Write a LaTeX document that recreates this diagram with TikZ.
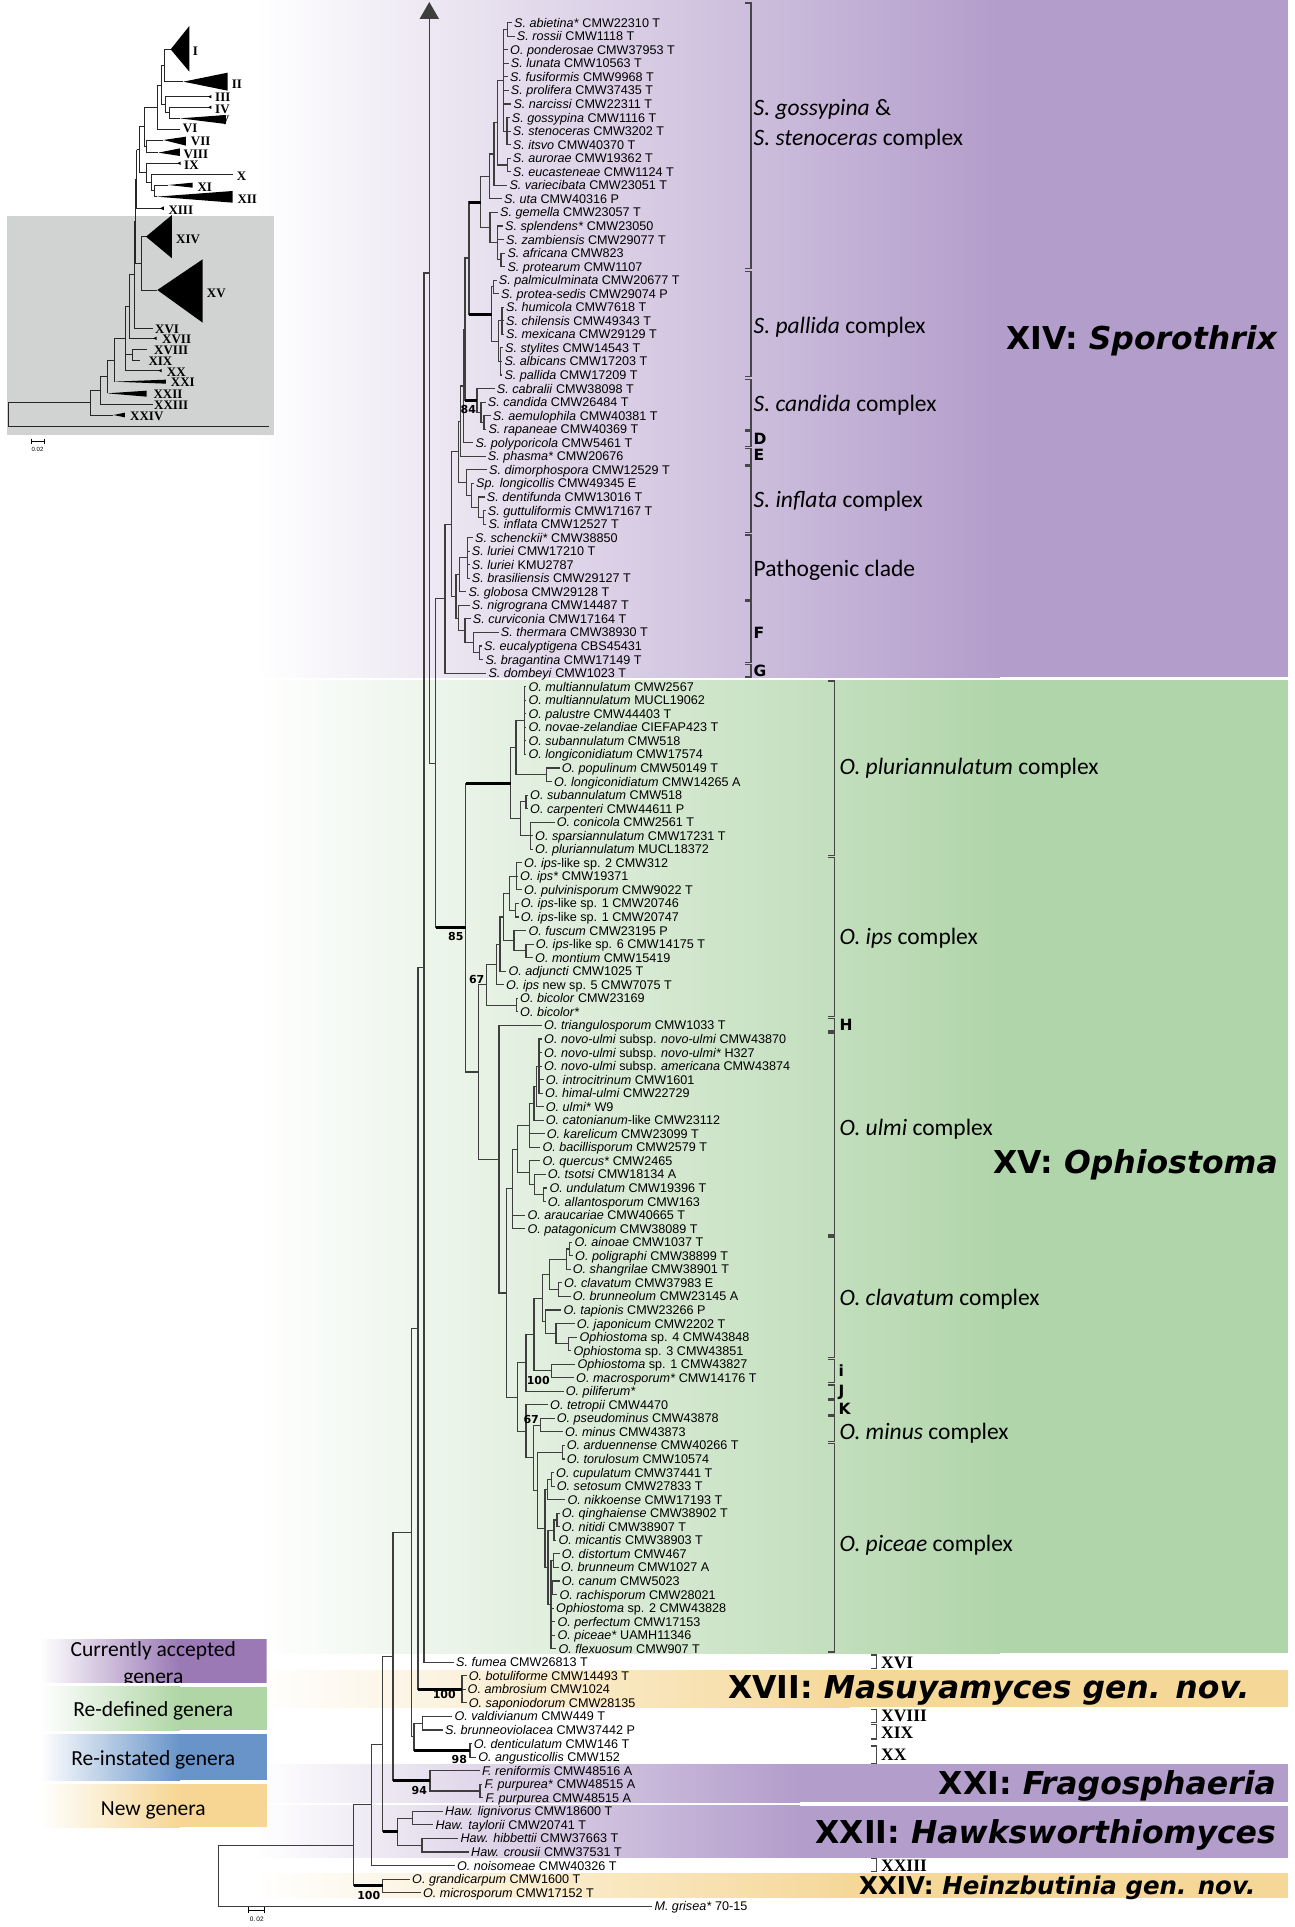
\documentclass[tikz,border=0pt]{standalone}
\usepackage{fontspec}
\setmainfont{Liberation Sans}
\newfontfamily\calibfont{Carlito}
\newfontfamily\dvsfont{DejaVu Sans}
\newfontfamily\serifbfont{Liberation Serif}
\usetikzlibrary{calc}
\definecolor{purB}{RGB}{179,157,203}
\definecolor{grnB}{RGB}{177,213,170}
\definecolor{yelB}{RGB}{245,216,152}
\definecolor{legP}{RGB}{154,121,181}
\definecolor{legG}{RGB}{176,214,166}
\definecolor{legB}{RGB}{104,148,201}
\definecolor{legY}{RGB}{246,214,146}
\definecolor{insG}{RGB}{209,210,210}
\definecolor{brc}{RGB}{62,62,62}
\definecolor{bkc}{RGB}{70,70,70}
\tikzset{
 br/.style={line width=1.1pt, draw=brc, line cap=rect},
 thk/.style={line width=3pt, draw=black},
 bk/.style={line width=1.2pt, draw=bkc},
 tax/.style={anchor=base west, inner sep=0pt, font=\fontsize{12.6}{13}\selectfont},
 cplx/.style={anchor=base west, inner sep=0pt, font=\calibfont\fontsize{23.5}{24}\selectfont},
 lett/.style={anchor=base west, inner sep=0pt, font=\dvsfont\bfseries\fontsize{15.5}{16}\selectfont},
 big/.style={inner sep=0pt, font=\dvsfont\bfseries\fontsize{31.5}{32}\selectfont},
 supp/.style={anchor=base, inner sep=0pt, font=\dvsfont\bfseries\fontsize{11}{11}\selectfont},
 rom/.style={anchor=base west, inner sep=0pt, font=\serifbfont\bfseries\fontsize{17.5}{18}\selectfont},
 leg/.style={anchor=base, inner sep=0pt, font=\calibfont\fontsize{21.5}{22}\selectfont},
 inl/.style={anchor=west, inner sep=0pt, font=\serifbfont\bfseries\fontsize{13}{13}\selectfont},
}
\newcommand\lf[4]{\coordinate (#1) at ({#3-2.5},{22.7+13.55*#2});
  \node[tax] at (#3,{27.2+13.55*#2}) {#4};}
\newcommand\cl[5]{\path let \p1=(#3), \p2=(#4) in coordinate (#1) at (#2pt,{(\y1+\y2)/2});
  \draw[br] (#1 |- #3) -- (#1 |- #4);
  \foreach \c in {#5} {\draw[br] (#1 |- \c) -- (\c);}}
\newcommand\brk[3]{\draw[bk] ({#1-6},#2) -- (#1,#2) -- (#1,#3) -- ({#1-6},#3);}
\begin{document}
\begin{tikzpicture}[x=1pt,y=-1pt]
\useasboundingbox (0,0) rectangle (1294,1927);
\fill[white] (0,0) rectangle (1294,1927);
% ---------- bands
\shade[left color=white, right color=purB] (254,0) rectangle (1000,677);
\fill[purB] (1000,0) rectangle (1288,677);
\shade[left color=white, right color=grnB] (254,680) rectangle (1000,1653);
\fill[grnB] (1000,680) rectangle (1288,1653);
\shade[left color=white, right color=yelB] (254,1670) rectangle (850,1707);
\fill[yelB] (850,1670) rectangle (1288,1707);
\shade[left color=white, right color=purB] (254,1764) rectangle (800,1802.3);
\fill[purB] (800,1764) rectangle (1288,1802.3);
\shade[left color=white, right color=purB] (254,1805.7) rectangle (800,1857.5);
\fill[purB] (800,1805.7) rectangle (1288,1857.5);
\shade[left color=white, right color=yelB] (254,1873.3) rectangle (850,1897.5);
\fill[yelB] (850,1873.3) rectangle (1288,1897.5);
% ---------- legend
\begin{scope}
\clip (40,1639.3) rectangle (266.7,1682.7);
\shade[left color=white, right color=legP] (40,1639.3) rectangle (180,1682.7);
\fill[legP] (180,1639.3) rectangle (266.7,1682.7);
\node[leg] at (153.3,1656) {Currently accepted};
\node[leg] at (153.3,1683) {genera};
\end{scope}
\shade[left color=white, right color=legG] (40,1686.7) rectangle (180,1730);
\fill[legG] (180,1686.7) rectangle (266.7,1730);
\node[leg] at (153.3,1716.7) {Re-defined genera};
\shade[left color=white, right color=legB] (40,1734) rectangle (180,1780);
\fill[legB] (180,1734) rectangle (266.7,1780);
\node[leg] at (153.3,1765.7) {Re-instated genera};
\shade[left color=white, right color=legY] (40,1784) rectangle (180,1827);
\fill[legY] (180,1784) rectangle (266.7,1827);
\node[leg] at (153.3,1815) {New genera};
% ---------- inset
\fill[insG] (7.3,216) rectangle (274,435);
\begin{scope}[x=0.33333pt,y=-0.33333pt]
\begin{scope}[line width=0.9pt, draw=black!85, fill=black]
\draw (512,148) -- (492,148) -- (492,245) -- (550,245);
\fill (512,148) -- (568,78) -- (568,215) -- cycle;
\fill (550,245) -- (683,218) -- (683,272) -- cycle;
\draw (485,196) -- (492,196);
\draw (632,290) -- (495,290) -- (495,338) -- (508,338);
\fill (624,290) -- (634,285) -- (634,295) -- cycle;
\draw (632,322) -- (508,322) -- (508,355) -- (540,355);
\fill (624,322) -- (634,317) -- (634,327) -- cycle;
\fill (540,355) -- (678,345) -- (678,372) -- cycle;
\draw (485,196) -- (485,314) -- (495,314);
\draw (472,255) -- (485,255);
\draw (472,255) -- (472,388) -- (540,388);
\draw (432,321) -- (472,321);
\draw (432,321) -- (432,439) -- (440,439);
\draw (490,420) -- (440,420) -- (440,458) -- (475,458);
\fill (490,420) -- (558,410) -- (558,437) -- cycle;
\fill (475,458) -- (540,445) -- (540,468) -- cycle;
\draw (418,380) -- (432,380);
\draw (418,380) -- (418,518) -- (438,518);
\draw (540,490) -- (438,490) -- (438,547) -- (455,547);
\fill (532,490) -- (542,485) -- (542,495) -- cycle;
\draw (700,522) -- (455,522) -- (455,572) -- (462,572);
\draw (505,555) -- (462,555) -- (462,590) -- (470,590);
\fill (505,555) -- (578,548) -- (578,563) -- cycle;
\fill (470,590) -- (698,573) -- (698,608) -- cycle;
\draw (410,449) -- (418,449);
\draw (410,449) -- (410,625) -- (488,625);
\fill (480,625) -- (492,619) -- (492,631) -- cycle;
\draw (407,537) -- (410,537);
\draw (407,537) -- (407,790) -- (425,790);
\draw (438,710) -- (425,710) -- (425,870) -- (472,870);
\fill (438,710) -- (516,645) -- (516,775) -- cycle;
\fill (472,870) -- (608,778) -- (608,968) -- cycle;
\draw (402,663) -- (407,663);
\draw (402,663) -- (402,985) -- (460,985);
\draw (388,824) -- (402,824);
\draw (388,824) -- (388,1015) -- (468,1015);
\fill (460,1015) -- (470,1010) -- (470,1020) -- cycle;
\draw (440,1048) -- (398,1048) -- (398,1080) -- (420,1080);
\draw (376,920) -- (388,920);
\draw (376,920) -- (376,1112) -- (483,1112);
\fill (475,1112) -- (485,1107) -- (485,1117) -- cycle;
\draw (376,1064) -- (398,1064);
\draw (342,1016) -- (376,1016);
\draw (342,1016) -- (342,1145);
\fill (342,1145) -- (498,1139) -- (498,1151) -- cycle;
\draw (322,1080) -- (342,1080);
\draw (322,1080) -- (322,1180);
\fill (322,1180) -- (440,1172) -- (440,1190) -- cycle;
\draw (300,1130) -- (322,1130);
\draw (300,1130) -- (300,1212) -- (460,1212);
\draw (272,1171) -- (300,1171);
\draw (272,1171) -- (272,1245) -- (340,1245);
\fill (340,1245) -- (375,1238) -- (375,1252) -- cycle;
\draw (25,1208) -- (272,1208);
\draw (25,1208) -- (25,1278) -- (808,1278);
\end{scope}
\node[inl] at (578,155) {I};
\node[inl] at (695,252) {II};
\node[inl] at (645,291) {III};
\node[inl] at (645,327) {IV};
\node[inl] at (660,362) {V};
\node[inl] at (548,385) {VI};
\node[inl] at (572,424) {VII};
\node[inl] at (550,462) {VIII};
\node[inl] at (552,495) {IX};
\node[inl] at (710,530) {X};
\node[inl] at (592,562) {XI};
\node[inl] at (712,598) {XII};
\node[inl] at (505,632) {XIII};
\node[inl] at (528,718) {XIV};
\node[inl] at (620,880) {XV};
\node[inl] at (465,988) {XVI};
\node[inl] at (486,1018) {XVII};
\node[inl] at (462,1051) {XVIII};
\node[inl] at (445,1084) {XIX};
\node[inl] at (500,1116) {XX};
\node[inl] at (512,1148) {XXI};
\node[inl] at (460,1182) {XXII};
\node[inl] at (462,1216) {XXIII};
\node[inl] at (390,1250) {XXIV};
\end{scope}
\draw[line width=0.7pt] (31,441) -- (44,441) (31,438.5) -- (31,443.5) (44,438.5) -- (44,443.5);
\node[font=\fontsize{6}{6}\selectfont, inner sep=0pt] at (37.5,449) {0.02};
% ---------- leaves
\lf{t0}{0}{514}{\textit{S. abietina*} CMW22310 T}
\lf{t1}{1}{516.7}{\textit{S. rossii} CMW1118 T}
\lf{t2}{2}{510}{\textit{O. ponderosae} CMW37953 T}
\lf{t3}{3}{510.7}{\textit{S. lunata} CMW10563 T}
\lf{t4}{4}{510}{\textit{S. fusiformis} CMW9968 T}
\lf{t5}{5}{510.7}{\textit{S. prolifera} CMW37435 T}
\lf{t6}{6}{513.3}{\textit{S. narcissi} CMW22311 T}
\lf{t7}{7}{511.7}{\textit{S. gossypina} CMW1116 T}
\lf{t8}{8}{512.7}{\textit{S. stenoceras} CMW3202 T}
\lf{t9}{9}{512.7}{\textit{S. itsvo} CMW40370 T}
\lf{t10}{10}{512.7}{\textit{S. aurorae} CMW19362 T}
\lf{t11}{11}{512.7}{\textit{S. eucasteneae} CMW1124 T}
\lf{t12}{12}{509.3}{\textit{S. variecibata} CMW23051 T}
\lf{t13}{13}{504}{\textit{S. uta} CMW40316 P}
\lf{t14}{14}{500}{\textit{S. gemella} CMW23057 T}
\lf{t15}{15}{505}{\textit{S. splendens*} CMW23050}
\lf{t16}{16}{506}{\textit{S. zambiensis} CMW29077 T}
\lf{t17}{17}{507.3}{\textit{S. africana} CMW823}
\lf{t18}{18}{507.3}{\textit{S. protearum} CMW1107}
\lf{t19}{19}{498.7}{\textit{S. palmiculminata} CMW20677 T}
\lf{t20}{20}{501}{\textit{S. protea-sedis} CMW29074 P}
\lf{t21}{21}{506}{\textit{S. humicola} CMW7618 T}
\lf{t22}{22}{506}{\textit{S. chilensis} CMW49343 T}
\lf{t23}{23}{506}{\textit{S. mexicana} CMW29129 T}
\lf{t24}{24}{505}{\textit{S. stylites} CMW14543 T}
\lf{t25}{25}{504.3}{\textit{S. albicans} CMW17203 T}
\lf{t26}{26}{504.3}{\textit{S. pallida} CMW17209 T}
\lf{t27}{27}{496.7}{\textit{S. cabralii} CMW38098 T}
\lf{t28}{28}{487.7}{\textit{S. candida} CMW26484 T}
\lf{t29}{29}{492.7}{\textit{S. aemulophila} CMW40381 T}
\lf{t30}{30}{488.3}{\textit{S. rapaneae} CMW40369 T}
\lf{t31}{31}{475.3}{\textit{S. polyporicola} CMW5461 T}
\lf{t32}{32}{487.7}{\textit{S. phasma*} CMW20676}
\lf{t33}{33}{489}{\textit{S. dimorphospora} CMW12529 T}
\lf{t34}{34}{476}{\textit{Sp. longicollis} CMW49345 E}
\lf{t35}{35}{486.7}{\textit{S. dentifunda} CMW13016 T}
\lf{t36}{36}{487.7}{\textit{S. guttuliformis} CMW17167 T}
\lf{t37}{37}{488.3}{\textit{S. inflata} CMW12527 T}
\lf{t38}{38}{475}{\textit{S. schenckii*} CMW38850}
\lf{t39}{39}{471.7}{\textit{S. luriei} CMW17210 T}
\lf{t40}{40}{471.7}{\textit{S. luriei} KMU2787}
\lf{t41}{41}{471.7}{\textit{S. brasiliensis} CMW29127 T}
\lf{t42}{42}{468.3}{\textit{S. globosa} CMW29128 T}
\lf{t43}{43}{471.7}{\textit{S. nigrograna} CMW14487 T}
\lf{t44}{44}{472.7}{\textit{S. curviconia} CMW17164 T}
\lf{t45}{45}{500.7}{\textit{S. thermara} CMW38930 T}
\lf{t46}{46}{484}{\textit{S. eucalyptigena} CBS45431}
\lf{t47}{47}{485.3}{\textit{S. bragantina} CMW17149 T}
\lf{t48}{48}{488.3}{\textit{S. dombeyi} CMW1023 T}
\lf{t49}{49}{528.3}{\textit{O. multiannulatum} CMW2567}
\lf{t50}{50}{528.3}{\textit{O. multiannulatum} MUCL19062}
\lf{t51}{51}{528.3}{\textit{O. palustre} CMW44403 T}
\lf{t52}{52}{528.3}{\textit{O. novae-zelandiae} CIEFAP423 T}
\lf{t53}{53}{528.3}{\textit{O. subannulatum} CMW518}
\lf{t54}{54}{528.3}{\textit{O. longiconidiatum} CMW17574}
\lf{t55}{55}{561.7}{\textit{O. populinum} CMW50149 T}
\lf{t56}{56}{554}{\textit{O. longiconidiatum} CMW14265 A}
\lf{t57}{57}{530}{\textit{O. subannulatum} CMW518}
\lf{t58}{58}{530}{\textit{O. carpenteri} CMW44611 P}
\lf{t59}{59}{556.7}{\textit{O. conicola} CMW2561 T}
\lf{t60}{60}{535}{\textit{O. sparsiannulatum} CMW17231 T}
\lf{t61}{61}{535}{\textit{O. pluriannulatum} MUCL18372}
\lf{t62}{62}{524}{\textit{O. ips}-like sp. 2 CMW312}
\lf{t63}{63}{520}{\textit{O. ips*} CMW19371}
\lf{t64}{64}{524}{\textit{O. pulvinisporum} CMW9022 T}
\lf{t65}{65}{520.7}{\textit{O. ips}-like sp. 1 CMW20746}
\lf{t66}{66}{520.7}{\textit{O. ips}-like sp. 1 CMW20747}
\lf{t67}{67}{528.3}{\textit{O. fuscum} CMW23195 P}
\lf{t68}{68}{535.7}{\textit{O. ips}-like sp. 6 CMW14175 T}
\lf{t69}{69}{535}{\textit{O. montium} CMW15419}
\lf{t70}{70}{508.3}{\textit{O. adjuncti} CMW1025 T}
\lf{t71}{71}{506}{\textit{O. ips} new sp. 5 CMW7075 T}
\lf{t72}{72}{520}{\textit{O. bicolor} CMW23169}
\lf{t73}{73}{520}{\textit{O. bicolor*}}
\lf{t74}{74}{544}{\textit{O. triangulosporum} CMW1033 T}
\lf{t75}{75}{544}{\textit{O. novo-ulmi} subsp. \textit{novo-ulmi} CMW43870}
\lf{t76}{76}{544}{\textit{O. novo-ulmi} subsp. \textit{novo-ulmi*} H327}
\lf{t77}{77}{544}{\textit{O. novo-ulmi} subsp. \textit{americana} CMW43874}
\lf{t78}{78}{545.7}{\textit{O. introcitrinum} CMW1601}
\lf{t79}{79}{545}{\textit{O. himal-ulmi} CMW22729}
\lf{t80}{80}{545.7}{\textit{O. ulmi*} W9}
\lf{t81}{81}{545.7}{\textit{O. catonianum}-like CMW23112}
\lf{t82}{82}{546.7}{\textit{O. karelicum} CMW23099 T}
\lf{t83}{83}{542.3}{\textit{O. bacillisporum} CMW2579 T}
\lf{t84}{84}{542.3}{\textit{O. quercus*} CMW2465}
\lf{t85}{85}{547.7}{\textit{O. tsotsi} CMW18134 A}
\lf{t86}{86}{549.3}{\textit{O. undulatum} CMW19396 T}
\lf{t87}{87}{547.7}{\textit{O. allantosporum} CMW163}
\lf{t88}{88}{527.3}{\textit{O. araucariae} CMW40665 T}
\lf{t89}{89}{527.3}{\textit{O. patagonicum} CMW38089 T}
\lf{t90}{90}{574.3}{\textit{O. ainoae} CMW1037 T}
\lf{t91}{91}{575}{\textit{O. poligraphi} CMW38899 T}
\lf{t92}{92}{572.7}{\textit{O. shangrilae} CMW38901 T}
\lf{t93}{93}{564}{\textit{O. clavatum} CMW37983 E}
\lf{t94}{94}{572.7}{\textit{O. brunneolum} CMW23145 A}
\lf{t95}{95}{563.3}{\textit{O. tapionis} CMW23266 P}
\lf{t96}{96}{576.7}{\textit{O. japonicum} CMW2202 T}
\lf{t97}{97}{579.3}{\textit{Ophiostoma} sp. 4 CMW43848}
\lf{t98}{98}{573.3}{\textit{Ophiostoma} sp. 3 CMW43851}
\lf{t99}{99}{577.3}{\textit{Ophiostoma} sp. 1 CMW43827}
\lf{t100}{100}{576}{\textit{O. macrosporum*} CMW14176 T}
\lf{t101}{101}{565.7}{\textit{O. piliferum*}}
\lf{t102}{102}{550}{\textit{O. tetropii} CMW4470}
\lf{t103}{103}{556.7}{\textit{O. pseudominus} CMW43878}
\lf{t104}{104}{565}{\textit{O. minus} CMW43873}
\lf{t105}{105}{566.7}{\textit{O. arduennense} CMW40266 T}
\lf{t106}{106}{566.7}{\textit{O. torulosum} CMW10574}
\lf{t107}{107}{556}{\textit{O. cupulatum} CMW37441 T}
\lf{t108}{108}{556.7}{\textit{O. setosum} CMW27833 T}
\lf{t109}{109}{567.3}{\textit{O. nikkoense} CMW17193 T}
\lf{t110}{110}{561.7}{\textit{O. qinghaiense} CMW38902 T}
\lf{t111}{111}{561.7}{\textit{O. nitidi} CMW38907 T}
\lf{t112}{112}{558.3}{\textit{O. micantis} CMW38903 T}
\lf{t113}{113}{561.7}{\textit{O. distortum} CMW467}
\lf{t114}{114}{560.7}{\textit{O. brunneum} CMW1027 A}
\lf{t115}{115}{561.7}{\textit{O. canum} CMW5023}
\lf{t116}{116}{559.3}{\textit{O. rachisporum} CMW28021}
\lf{t117}{117}{556}{\textit{Ophiostoma} sp. 2 CMW43828}
\lf{t118}{118}{557.3}{\textit{O. perfectum} CMW17153}
\lf{t119}{119}{557.3}{\textit{O. piceae*} UAMH11346}
\lf{t120}{120}{558.3}{\textit{O. flexuosum} CMW907 T}
\lf{t121}{121}{456}{\textit{S. fumea} CMW26813 T}
\lf{t122}{122}{468.6}{\textit{O. botuliforme} CMW14493 T}
\lf{t123}{123}{467.5}{\textit{O. ambrosium} CMW1024}
\lf{t124}{124}{468.6}{\textit{O. saponiodorum} CMW28135}
\lf{t125}{125}{454.3}{\textit{O. valdivianum} CMW449 T}
\lf{t126}{126}{445}{\textit{S. brunneoviolacea} CMW37442 P}
\lf{t127}{127}{473.6}{\textit{O. denticulatum} CMW146 T}
\lf{t128}{128}{478.2}{\textit{O. angusticollis} CMW152}
\lf{t129}{129}{481.8}{\textit{F. reniformis} CMW48516 A}
\lf{t130}{130}{484.3}{\textit{F. purpurea*} CMW48515 A}
\lf{t131}{131}{485.4}{\textit{F. purpurea} CMW48515 A}
\lf{t132}{132}{445}{\textit{Haw. lignivorus} CMW18600 T}
\lf{t133}{133}{435.4}{\textit{Haw. taylorii} CMW20741 T}
\lf{t134}{134}{460.4}{\textit{Haw. hibbettii} CMW37663 T}
\lf{t135}{135}{471}{\textit{Haw. crousii} CMW37531 T}
\lf{t136}{136}{456.8}{\textit{O. noisomeae} CMW40326 T}
\lf{t137}{137}{412}{\textit{O. grandicarpum} CMW1600 T}
\lf{t138}{138}{422.9}{\textit{O. microsporum} CMW17152 T}
\lf{t139}{139}{654.3}{\textit{M. grisea*} 70-15}
% ---------- Sporothrix clades
\cl{G1}{507.3}{t0}{t1}{t0,t1}
\cl{G3}{507}{t7}{t9}{t7,t8,t9}
\cl{G2}{503.3}{G1}{G3}{G1,t2,t3,t4,t5,t6,G3}
\cl{G4}{507.3}{t10}{t11}{t10,t11}
\cl{G5}{497.3}{G2}{G4}{G2,G4}
\cl{G6}{494}{G5}{t12}{G5,t12}
\cl{G7}{489.3}{G6}{t13}{G6,t13}
\cl{G10}{501}{t17}{t18}{t17,t18}
\cl{G9}{497.3}{t15}{G10}{t15,t16,G10}
\cl{G8}{490}{t14}{G9}{t14,G9}
\cl{G11}{480.7}{G7}{G8}{G7,G8}
\cl{P1}{493.3}{t19}{t20}{t19,t20}
\cl{P2a}{502}{t21}{t23}{t21,t22,t23}
\cl{P2b}{500.5}{t24}{t26}{t24,t25,t26}
\cl{P2}{498.5}{P2a}{P2b}{P2a,P2b}
\cl{P3}{491.7}{P1}{P2}{P1,P2}
\cl{GP}{469}{G11}{P3}{G11,P3}
\cl{C2}{484}{t29}{t30}{t29,t30}
\cl{C1}{481}{t28}{C2}{t28,C2}
\cl{C3}{477}{t27}{C1}{t27,C1}
\cl{SP6}{465}{GP}{C3}{GP,C3}
\cl{SP5}{463.3}{SP6}{t31}{SP6,t31}
\cl{SP4}{460.7}{SP5}{t32}{SP5,t32}
\cl{INF3b}{483.3}{t36}{t37}{t36,t37}
\cl{INF3}{478.3}{t35}{INF3b}{t35,INF3b}
\cl{INF2}{471.7}{t34}{INF3}{t34,INF3}
\cl{INF}{466.7}{t33}{INF2}{t33,INF2}
\cl{SP2}{458.3}{SP4}{INF}{SP4,INF}
\cl{PC1}{467.5}{t38}{t41}{t38,t39,t40,t41}
\cl{PC}{459.3}{PC1}{t42}{PC1,t42}
\cl{F3}{479.3}{t46}{t47}{t46,t47}
\cl{F2}{473.3}{t45}{F3}{t45,F3}
\cl{FC}{465}{t44}{F2}{t44,F2}
\cl{NF}{458.3}{t43}{FC}{t43,FC}
\cl{SP3}{456}{PC}{NF}{PC,NF}
\cl{SP1}{451.7}{SP2}{SP3}{SP2,SP3}
\cl{SP0}{445}{SP1}{t48}{SP1,t48}
% ---------- Ophiostoma clades
\cl{O1}{524.3}{t49}{t54}{t49,t50,t51,t52,t53,t54}
\cl{O2}{546.7}{t55}{t56}{t55,t56}
\cl{O3}{516}{O1}{O2}{O1,O2}
\cl{O4}{526}{t57}{t58}{t57,t58}
\cl{O5}{530.7}{t59}{t61}{t59,t60,t61}
\cl{O6}{520.7}{O4}{O5}{O4,O5}
\cl{O7}{510.7}{O3}{O6}{O3,O6}
\cl{I1}{516.7}{t62}{t64}{t62,t63,t64}
\cl{I2}{515.7}{t65}{t66}{t65,t66}
\cl{I3}{509.3}{I1}{I2}{I1,I2}
\cl{I4}{526}{t68}{t69}{t68,t69}
\cl{I5}{514}{t67}{I4}{t67,I4}
\cl{I6}{503.3}{I3}{I5}{I3,I5}
\cl{I7}{500}{I6}{t70}{I6,t70}
\cl{I8}{496.7}{I7}{t71}{I7,t71}
\cl{I9}{516.7}{t72}{t73}{t72,t73}
\cl{I10}{486.7}{I8}{I9}{I8,I9}
\cl{UL7}{539}{t75}{t79}{t75,t76,t77,t78,t79}
\cl{UL6}{536.7}{UL7}{t80}{UL7,t80}
\cl{UL4}{534}{UL6}{t81}{UL6,t81}
\cl{UL2}{529.3}{UL4}{t83}{UL4,t82,t83}
\cl{UL9}{543.3}{t86}{t87}{t86,t87}
\cl{UL8}{534.3}{t85}{UL9}{t85,UL9}
\cl{UL3}{529.3}{t84}{UL8}{t84,UL8}
\cl{UL1}{517.3}{UL2}{UL3}{UL2,UL3}
\cl{ULT}{512.3}{UL1}{t89}{UL1,t88,t89}
\cl{CL1a}{569.3}{t90}{t91}{t90,t91}
\cl{CL1}{566.7}{CL1a}{t92}{CL1a,t92}
\cl{CL2}{558.3}{t93}{t94}{t93,t94}
\cl{CL3}{549.3}{CL1}{CL2}{CL1,CL2}
\cl{CL6}{568.3}{t97}{t98}{t97,t98}
\cl{CL5}{556}{t96}{CL6}{t96,CL6}
\cl{CL4}{545.7}{t95}{CL5}{t95,CL5}
\cl{CL7}{542.3}{CL3}{CL4}{CL3,CL4}
\cl{CL9}{551.7}{t99}{t100}{t99,t100}
\cl{CL8}{534}{CL7}{CL9}{CL7,CL9}
\cl{CL10}{526}{CL8}{t101}{CL8,t101}
\cl{MP3}{540.7}{t103}{t104}{t103,t104}
\cl{MP5}{562.7}{t105}{t106}{t105,t106}
\cl{MP7a}{551.5}{t107}{t108}{t107,t108}
\cl{MP7}{547.7}{MP7a}{t109}{MP7a,t109}
\cl{MP9a}{557}{t110}{t111}{t110,t111}
\cl{MP9}{554}{MP9a}{t112}{MP9a,t112}
\cl{MP10}{553.3}{t113}{t114}{t113,t114}
\cl{MP11}{552.7}{t115}{t116}{t115,t116}
\cl{MP12}{551}{MP10}{t120}{MP10,MP11,t117,t118,t119,t120}
\cl{MP8}{548}{MP9}{MP12}{MP9,MP12}
\cl{MP6}{545}{MP7}{MP8}{MP7,MP8}
\cl{MP4}{537.3}{MP5}{MP6}{MP5,MP6}
\cl{MP2}{533.3}{MP3}{MP4}{MP3,MP4}
\cl{MP}{526}{t102}{MP2}{t102,MP2}
\cl{CL11}{517.3}{CL10}{MP}{CL10,MP}
\cl{U2}{506.7}{ULT}{CL11}{ULT,CL11}
\cl{U1}{499}{t74}{U2}{t74,U2}
\cl{U0}{478.3}{I10}{U1}{I10,U1}
\cl{OPH}{465.7}{O7}{U0}{O7,U0}
\cl{XV0}{435.7}{SP0}{OPH}{SP0,OPH}
% ---------- lower clades and backbone
\cl{MAS}{462}{t122}{t124}{t122,t123,t124}
\cl{VAL}{422.9}{t125}{t126}{t125,t126}
\cl{DEN}{470}{t127}{t128}{t127,t128}
\cl{N4}{414}{VAL}{DEN}{VAL,DEN}
\cl{FR2}{480}{t130}{t131}{t130,t131}
\cl{FRA}{430}{t129}{FR2}{t129,FR2}
\cl{HA1}{412.9}{t132}{t133}{t132,t133}
\cl{HA2}{422}{t134}{t135}{t134,t135}
\cl{HAW}{397.9}{HA1}{HA2}{HA1,HA2}
\cl{HEI}{382.9}{t137}{t138}{t137,t138}
\coordinate (NA) at (429.3,273);
\cl{N1}{424}{NA}{t121}{NA,t121}
\cl{N2}{418}{N1}{MAS}{N1,MAS}
\cl{N3}{411.7}{N2}{N4}{N2,N4}
\cl{N5}{393}{N3}{FRA}{N3,FRA}
\cl{N6}{382.9}{N5}{HAW}{N5,HAW}
\cl{N7}{371.8}{N6}{t136}{N6,t136}
\cl{N8}{353.9}{N7}{HEI}{N7,HEI}
\cl{ROOT}{218.2}{N8}{t139}{N8,t139}
% arrow branch to clades I-XIII
\draw[br] (NA |- XV0) -- (XV0);
\draw[br] (NA |- XV0) -- (429.3,17);
\fill[brc] (429.3,2) -- (419.5,19) -- (439.1,19) -- cycle;
% thick (supported) branches
\draw[thk] (GP |- G11) -- (G11);
\draw[thk] (GP |- P3) -- (P3);
\draw[thk] (SP6 |- C3) -- (C3);
\draw[thk] (XV0 |- OPH) -- (OPH);
\draw[thk] (OPH |- O7) -- (O7);
\draw[thk] (N2 |- MAS) -- (MAS);
\draw[thk] (N4 |- DEN) -- (DEN);
\draw[thk] (N5 |- FRA) -- (FRA);
\draw[thk] (N6 |- HAW) -- (HAW);
\draw[thk] (N8 |- HEI) -- (HEI);
% support values
\node[supp] at (468.3,413) {84};
\node[supp] at (455.8,940.7) {85};
\node[supp] at (476.7,983) {67};
\node[supp] at (538.3,1384) {100};
\node[supp] at (531.2,1423) {67};
\node[supp] at (444.3,1698.3) {100};
\node[supp] at (459.3,1763.3) {98};
\node[supp] at (419.3,1794) {94};
\node[supp] at (368.8,1899) {100};
% scale bar
\draw[line width=0.7pt] (248.6,1910) -- (264.6,1910) (248.6,1907) -- (248.6,1913) (264.6,1907) -- (264.6,1913);
\node[font=\fontsize{6.5}{6.5}\selectfont, inner sep=0pt] at (256.8,1919) {0.\,02};
% ---------- brackets Sporothrix
\brk{751}{3}{268.3}
\brk{751}{271.7}{376.7}
\brk{751}{379.3}{430}
\brk{751}{431.5}{446.7}
\brk{751}{448.3}{465}
\brk{751}{466.7}{532.7}
\brk{751}{535}{600}
\brk{751}{601.7}{662.7}
\brk{751}{664.3}{677}
\node[cplx] at (753.5,115.6) {\textit{S. gossypina} \&};
\node[cplx] at (753.5,145.2) {\textit{S. stenoceras} complex};
\node[cplx] at (753.5,333.3) {\textit{S. pallida} complex};
\node[cplx] at (753.5,411.9) {\textit{S. candida} complex};
\node[lett] at (753.5,444.4) {D};
\node[lett] at (753.5,460.4) {E};
\node[cplx] at (753.5,507.6) {\textit{S. inflata} complex};
\node[cplx] at (753.5,576.6) {Pathogenic clade};
\node[lett] at (753.5,638.7) {F};
\node[lett] at (753.5,676.7) {G};
\node[big, anchor=base east] at (1278,349.3) {XIV: \textit{Sporothrix}};
% ---------- brackets Ophiostoma
\brk{834.3}{681}{855.5}
\brk{834.3}{857.5}{1016.5}
\brk{834.3}{1018.5}{1031}
\brk{834.3}{1033}{1235}
\brk{834.3}{1237}{1357.3}
\brk{834.3}{1359.3}{1382.7}
\brk{834.3}{1385}{1398.3}
\brk{834.3}{1400}{1415}
\brk{834.3}{1416.7}{1441.7}
\brk{834.3}{1443.3}{1652}
\node[cplx] at (839.3,774.4) {\textit{O. pluriannulatum} complex};
\node[cplx] at (839.3,944) {\textit{O. ips} complex};
\node[lett] at (839.3,1030.5) {H};
\node[cplx] at (839.3,1135.6) {\textit{O. ulmi} complex};
\node[cplx] at (839.3,1305.3) {\textit{O. clavatum} complex};
\node[lett] at (838.3,1376.6) {i};
\node[lett] at (838.3,1396.3) {J};
\node[lett] at (838.3,1414.6) {K};
\node[cplx] at (839.3,1439.3) {\textit{O. minus} complex};
\node[cplx] at (839.3,1551.1) {\textit{O. piceae} complex};
\node[big, anchor=base east] at (1278,1173.8) {XV: \textit{Ophiostoma}};
% ---------- lower labels
\brk{876.8}{1655}{1668.3}
\brk{876.8}{1709.3}{1722.7}
\brk{876.8}{1724.3}{1739}
\brk{876.8}{1746}{1763.3}
\brk{876.8}{1858.3}{1871.7}
\node[rom] at (881,1668.5) {XVI};
\node[rom] at (881,1721.8) {XVIII};
\node[rom] at (881,1738.5) {XIX};
\node[rom] at (881,1760.8) {XX};
\node[rom] at (881,1871.8) {XXIII};
\node[big, anchor=base west] at (728,1698) {XVII: \textit{Masuyamyces gen. nov.}};
\node[big, anchor=base east] at (1276,1794.6) {XXI: \textit{Fragosphaeria}};
\node[big, anchor=base east] at (1276,1843) {XXII: \textit{Hawksworthiomyces}};
\node[inner sep=0pt, anchor=base west, font=\dvsfont\bfseries\fontsize{24.5}{25}\selectfont] at (859,1894) {XXIV: \textit{Heinzbutinia gen. nov.}};
\end{tikzpicture}
\end{document}
